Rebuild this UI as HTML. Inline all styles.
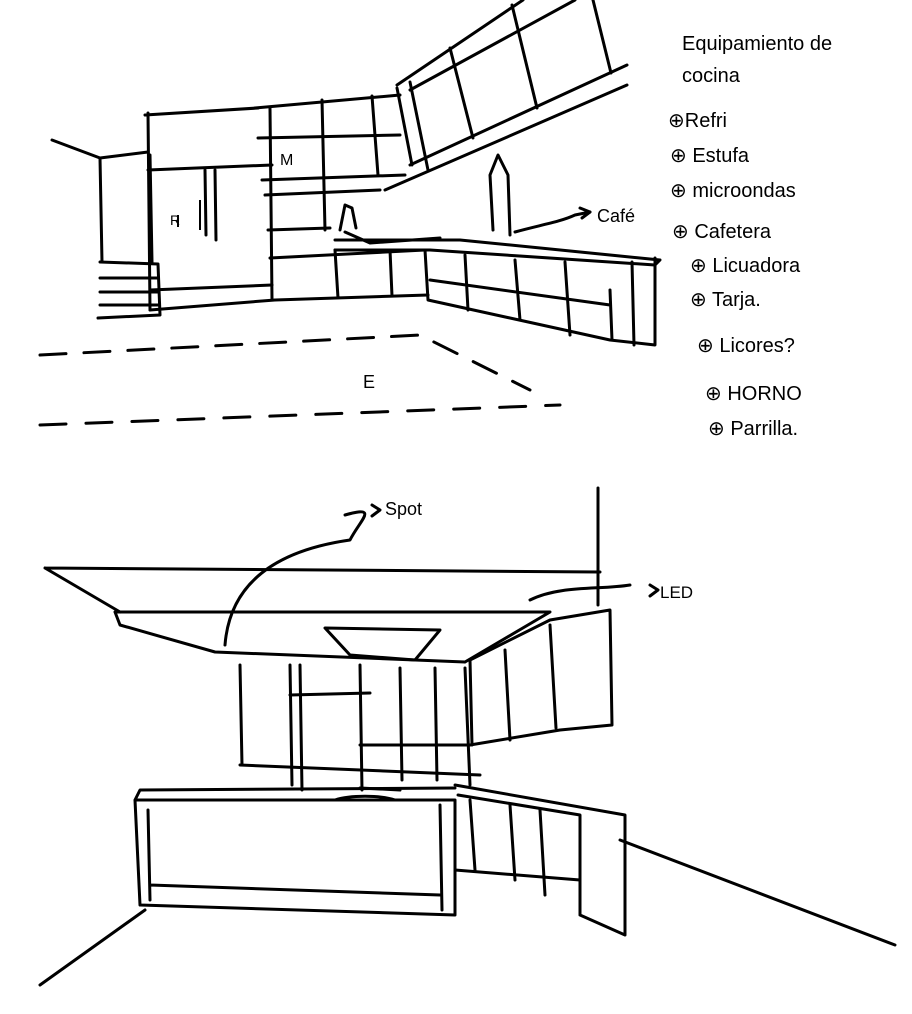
<!DOCTYPE html>
<html><head><meta charset="utf-8"><style>
html,body{margin:0;padding:0;background:#fff;}
svg{display:block;}
text{font-family:"Liberation Sans",sans-serif;fill:#000;}
</style></head><body>
<svg width="912" height="1014" viewBox="0 0 912 1014" xmlns="http://www.w3.org/2000/svg">
<g fill="none" stroke="#000" stroke-width="3" stroke-linecap="round" stroke-linejoin="round">
<!-- TOP SKETCH -->
<path d="M52 140 L100 158 L148 152"/>
<path d="M100 158 L102 262 M150 155 L152 262"/>
<path d="M100 262 L158 264 L160 315 L98 318 M100 278 L158 278 M100 292 L158 292 M100 305 L158 305"/>
<path d="M145 115 L258 108 M148 113 L150 310 M270 108 L272 300 M148 170 L272 165"/>
<path d="M150 290 L272 285 M150 310 L275 300"/>
<path d="M205 170 L206 235 M215 170 L216 240"/>
<path d="M255 108 L400 95 M258 138 L400 135 M262 180 L405 175 M265 195 L380 190 M268 230 L330 228 M270 258 L425 250"/>
<path d="M322 100 L325 230 M372 96 L378 175"/>
<path d="M397 85 L523 0 M410 90 L575 0 M410 165 L627 65 M385 190 L627 85"/>
<path d="M397 88 L412 165 M410 82 L428 170 M450 48 L473 138 M512 5 L537 108 M593 0 L611 73"/>
<path d="M335 240 L460 240 L660 260 L655 265 L430 250 L335 250"/>
<path d="M425 250 L428 300 L610 340 L655 345 L655 258"/>
<path d="M430 280 L610 305 M610 290 L612 340 M465 255 L468 310 M515 260 L520 320 M565 262 L570 335 M632 262 L634 345"/>
<path d="M275 300 L428 295 M335 250 L338 298 M390 250 L392 296"/>
<path d="M340 230 L345 205 L352 208 L356 228 M345 232 L370 243 L440 238"/>
<path d="M493 230 L490 175 L498 155 L508 175 L510 235"/>
<path d="M515 232 C540 225 560 222 575 215 L590 212"/>
<path d="M580 208 L590 212 L582 218"/>
<path d="M40 355 L420 335 L530 390" stroke-dasharray="26 18"/>
<path d="M40 425 L560 405" stroke-dasharray="26 20"/>
<!-- BOTTOM SKETCH -->
<path d="M45 568 L600 572 M45 568 L120 612"/>
<path d="M598 488 L598 605"/>
<path d="M115 612 L550 612 L465 662 M115 612 L120 625 L215 652 L465 662"/>
<path d="M325 628 L440 630 L415 660 L350 655 Z"/>
<path d="M470 660 L550 620 L610 610 L612 725 L560 730 L470 745"/>
<path d="M505 650 L510 740 M550 625 L556 728 M470 660 L472 745"/>
<path d="M240 665 L242 765 M290 665 L292 785 M300 665 L302 790 M360 665 L362 790 M400 668 L402 780 M435 668 L437 780 M465 668 L470 785"/>
<path d="M240 765 L480 775 M360 745 L470 745 M290 695 L370 693"/>
<path d="M135 800 L455 800 L455 915 L140 905 Z M148 810 L150 900 M440 805 L442 910 M150 885 L440 895 M135 800 L140 790 L455 788"/>
<path d="M455 785 L625 815 L625 935 L580 915 M458 795 L580 815 L580 915 M470 800 L475 870 M510 805 L515 880 M540 810 L545 895"/>
<path d="M455 870 L580 880"/>
<path d="M40 985 L145 910 M620 840 L895 945"/>
<path d="M345 515 C380 505 360 520 350 540 C280 550 230 580 225 645"/>
<path d="M372 505 L380 510 L372 516"/>
<path d="M630 585 C600 590 560 585 530 600"/>
<path d="M650 585 L658 590 L650 596"/>
<path d="M335 800 C350 795 380 795 395 800 M360 788 L400 790"/>
</g>
<g fill="none" stroke="#000" stroke-width="2">
<path d="M200 200 L200 230 M178 215 l0 12"/>
</g>
<text x="170" y="225" font-size="14">R</text>
<text x="280" y="165" font-size="16">M</text>
<text x="363" y="388" font-size="18">E</text>
<text x="597" y="222" font-size="18">Café</text>
<text x="385" y="515" font-size="18">Spot</text>
<text x="660" y="598" font-size="17">LED</text>
<g font-size="20">
<text x="682" y="50">Equipamiento de</text>
<text x="682" y="82">cocina</text>
<text x="668" y="127">⊕Refri</text>
<text x="670" y="162">⊕ Estufa</text>
<text x="670" y="197">⊕ microondas</text>
<text x="672" y="238">⊕ Cafetera</text>
<text x="690" y="272">⊕ Licuadora</text>
<text x="690" y="306">⊕ Tarja.</text>
<text x="697" y="352">⊕ Licores?</text>
<text x="705" y="400">⊕ HORNO</text>
<text x="708" y="435">⊕ Parrilla.</text>
</g>
</svg>
</body></html>
